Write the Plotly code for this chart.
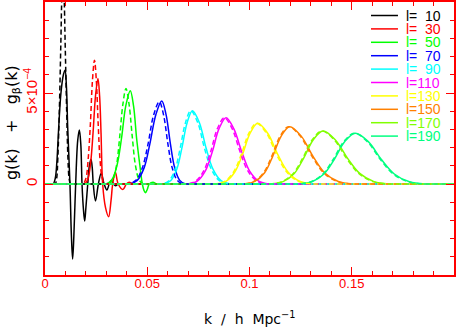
import plotly.graph_objects as go

# ---------------- data (g in units of 1e-4) ----------------
L_VALUES = [10, 30, 50, 70, 90, 110, 130, 150, 170, 190]
COLORS = ["#000000", "#ff0000", "#00ff00", "#0000ff", "#00ffff",
          "#ff00ff", "#ffff00", "#ff8000", "#80ff00", "#00ff80"]

X_TICKS = [0, 0.05, 0.1, 0.15]
X_TICK_LABELS = ["0", "0.05", "0.1", "0.15"]
Y_TICKS = [0, 5]
Y_TICK_LABELS = ["0", "5\u00d710<sup>\u22124</sup>"]

k_s10 = [0.0, 0.0030, 0.0040, 0.0050, 0.0058, 0.0067, 0.0078, 0.0090, 0.0098, 0.0105, 0.0111,
         0.0122, 0.0129, 0.0135, 0.0141, 0.0150, 0.0160, 0.0168, 0.0175, 0.0181, 0.0188,
         0.0194, 0.0200, 0.0209, 0.0217, 0.0225, 0.0231, 0.0236, 0.0247, 0.0261, 0.0275,
         0.0289, 0.0303, 0.0314, 0.0325, 0.0335, 0.0345, 0.0358, 0.0370, 0.2]
g_s10 = [0, 0, 0, 0.3, 1.2, 3.1, 5.0, 6.0, 6.25, 5.3, 3.1,
         0, -2.8, -4.12, -2.9, 0, 2.4, 2.97, 2.2, 0, -1.4,
         -2.03, -1.3, 0, 1.0, 1.36, 0.9, 0, -0.93, 0, 0.59,
         0, -0.33, 0, 0.2, 0, -0.1, 0, 0, 0]
k_d10 = [0.0, 0.0040, 0.0050, 0.0057, 0.0063, 0.0070, 0.0077, 0.0083, 0.0088, 0.0093, 0.0099,
         0.0106, 0.0112, 0.0118, 0.0125, 0.0135, 0.2]
g_d10 = [0, 0, 0, 0.3, 1.5, 4.0, 7.5, 10.5, 11.5, 10.5, 7.5, 4.0, 1.5, 0.3, 0, 0, 0]

k_s30 = [0.0, 0.0170, 0.0180, 0.0193, 0.0209, 0.0223, 0.0235, 0.0247, 0.0259, 0.0267, 0.0274,
         0.0282, 0.0296, 0.0311, 0.0323, 0.0331, 0.0344, 0.0358, 0.0381, 0.0398, 0.0412,
         0.0428, 0.0440, 0.2]
g_s30 = [0, 0, 0, 0, 0.25, 1.15, 2.82, 4.84, 5.8, 4.84, 2.82,
         0, -1.3, -1.8, -0.9, 0, 0.65, 0, -0.3, 0, 0.1, 0, 0, 0]
k_d30 = [0.0, 0.0165, 0.0175, 0.0186, 0.0200, 0.0211, 0.0222, 0.0232, 0.0242, 0.0251, 0.0260,
         0.0269, 0.0280, 0.0292, 0.0305, 0.2]
g_d30 = [0, 0, 0, 0, 0.30, 1.35, 3.31, 5.68, 6.8, 5.68, 3.31, 1.35, 0.30, 0, 0, 0]

k_s50 = [0.0, 0.0275, 0.0285, 0.0298, 0.0327, 0.0352, 0.0374, 0.0395, 0.0417, 0.0433, 0.0448,
         0.0464, 0.0476, 0.0484, 0.0491, 0.0500, 0.0510, 0.0528, 0.0545, 0.0558, 0.2]
g_s50 = [0, 0, 0, 0, 0.23, 1.02, 2.50, 4.29, 5.13, 4.29, 2.50,
         1.02, 0, -0.35, -0.48, -0.3, 0, 0.1, 0, 0, 0]
k_d50 = [0.0, 0.0290, 0.0300, 0.0312, 0.0332, 0.0350, 0.0365, 0.0381, 0.0396, 0.0411, 0.0427,
         0.0442, 0.0460, 0.0480, 0.0495, 0.2]
g_d50 = [0, 0, 0, 0, 0.23, 1.04, 2.56, 4.39, 5.25, 4.39, 2.56, 1.04, 0.23, 0, 0, 0]

k_s70 = [0.0, 0.0395, 0.0413, 0.0451, 0.0485, 0.0513, 0.0542, 0.0571, 0.0592, 0.0613, 0.0634, 0.0659, 0.0687, 0.0705, 0.2]
g_s70 = [0, 0, 0, 0.20, 0.90, 2.22, 3.81, 4.56, 3.81, 2.22, 0.90, 0.20, 0, 0, 0]
k_d70 = [0.0, 0.0389, 0.0407, 0.0444, 0.0476, 0.0504, 0.0531, 0.0559, 0.0580, 0.0601, 0.0622, 0.0647, 0.0675, 0.0693, 0.2]
g_d70 = [0, 0, 0, 0.20, 0.89, 2.20, 3.78, 4.52, 3.78, 2.20, 0.89, 0.20, 0, 0, 0]

k_s90 = [0.0, 0.0559, 0.0579, 0.0614, 0.0644, 0.0669, 0.0695, 0.0721, 0.0755, 0.0788, 0.0822, 0.0861, 0.0906, 0.0926, 0.2]
g_s90 = [0, 0, 0, 0.18, 0.80, 1.96, 3.37, 4.03, 3.37, 1.96, 0.80, 0.18, 0, 0, 0]
k_d90 = [0.0, 0.0551, 0.0571, 0.0606, 0.0636, 0.0661, 0.0687, 0.0713, 0.0747, 0.0780, 0.0814, 0.0853, 0.0898, 0.0918, 0.2]
g_d90 = [0, 0, 0, 0.18, 0.80, 1.96, 3.37, 4.03, 3.37, 1.96, 0.80, 0.18, 0, 0, 0]

k_s110 = [0.0, 0.0678, 0.0700, 0.0745, 0.0784, 0.0818, 0.0851, 0.0885, 0.0923, 0.0962, 0.1000, 0.1045, 0.1096, 0.1118, 0.2]
g_s110 = [0, 0, 0, 0.16, 0.72, 1.77, 3.04, 3.64, 3.04, 1.77, 0.72, 0.16, 0, 0, 0]
k_d110 = [0.0, 0.0670, 0.0692, 0.0737, 0.0776, 0.0810, 0.0843, 0.0877, 0.0915, 0.0954, 0.0992, 0.1037, 0.1088, 0.1110, 0.2]
g_d110 = [0, 0, 0, 0.16, 0.72, 1.77, 3.04, 3.64, 3.04, 1.77, 0.72, 0.16, 0, 0, 0]

k_s130 = [0.0, 0.0810, 0.0835, 0.0885, 0.0928, 0.0966, 0.1003, 0.1040, 0.1089, 0.1138, 0.1188, 0.1245, 0.1311, 0.1336, 0.2]
g_s130 = [0, 0, 0, 0.15, 0.66, 1.63, 2.79, 3.34, 2.79, 1.63, 0.66, 0.15, 0, 0, 0]
k_d130 = [0.0, 0.0804, 0.0829, 0.0879, 0.0922, 0.0960, 0.0997, 0.1034, 0.1083, 0.1132, 0.1182, 0.1239, 0.1305, 0.1330, 0.2]
g_d130 = [0, 0, 0, 0.15, 0.66, 1.63, 2.79, 3.34, 2.79, 1.63, 0.66, 0.15, 0, 0, 0]

k_s150 = [0.0, 0.0945, 0.0972, 0.1026, 0.1074, 0.1114, 0.1155, 0.1196, 0.1253, 0.1310, 0.1367, 0.1434, 0.1510, 0.1540, 0.2]
g_s150 = [0, 0, 0, 0.14, 0.62, 1.53, 2.63, 3.15, 2.63, 1.53, 0.62, 0.14, 0, 0, 0]
k_d150 = [0.0, 0.0940, 0.0967, 0.1021, 0.1069, 0.1109, 0.1150, 0.1191, 0.1248, 0.1305, 0.1362, 0.1429, 0.1505, 0.1535, 0.2]
g_d150 = [0, 0, 0, 0.14, 0.62, 1.53, 2.63, 3.15, 2.63, 1.53, 0.62, 0.14, 0, 0, 0]

k_s170 = [0.0, 0.1072, 0.1102, 0.1164, 0.1219, 0.1265, 0.1312, 0.1359, 0.1419, 0.1479, 0.1539, 0.1609, 0.1689, 0.1720, 0.2]
g_s170 = [0, 0, 0, 0.13, 0.58, 1.42, 2.43, 2.91, 2.43, 1.42, 0.58, 0.13, 0, 0, 0]
k_d170 = [0.0, 0.1067, 0.1097, 0.1159, 0.1214, 0.1260, 0.1307, 0.1354, 0.1414, 0.1474, 0.1534, 0.1604, 0.1684, 0.1715, 0.2]
g_d170 = [0, 0, 0, 0.13, 0.58, 1.42, 2.43, 2.91, 2.43, 1.42, 0.58, 0.13, 0, 0, 0]

k_s190 = [0.0, 0.1205, 0.1237, 0.1305, 0.1364, 0.1415, 0.1466, 0.1517, 0.1581, 0.1644, 0.1708, 0.1782, 0.1867, 0.1900, 0.2]
g_s190 = [0, 0, 0, 0.12, 0.55, 1.36, 2.33, 2.79, 2.33, 1.36, 0.55, 0.12, 0, 0, 0]
k_d190 = [0.0, 0.1200, 0.1232, 0.1300, 0.1359, 0.1410, 0.1461, 0.1512, 0.1576, 0.1639, 0.1703, 0.1777, 0.1862, 0.1895, 0.2]
g_d190 = [0, 0, 0, 0.12, 0.55, 1.36, 2.33, 2.79, 2.33, 1.36, 0.55, 0.12, 0, 0, 0]

SOLID = [(k_s10, g_s10), (k_s30, g_s30), (k_s50, g_s50), (k_s70, g_s70), (k_s90, g_s90),
         (k_s110, g_s110), (k_s130, g_s130), (k_s150, g_s150), (k_s170, g_s170), (k_s190, g_s190)]
DASHED = [(k_d10, g_d10), (k_d30, g_d30), (k_d50, g_d50), (k_d70, g_d70), (k_d90, g_d90),
          (k_d110, g_d110), (k_d130, g_d130), (k_d150, g_d150), (k_d170, g_d170), (k_d190, g_d190)]

# ---------------- figure ----------------
fig = go.Figure()
for (k, g), c in zip(SOLID, COLORS):
    fig.add_trace(go.Scatter(x=k, y=g, mode="lines", hoverinfo="skip", showlegend=False,
                             line=dict(color=c, width=1.5, shape="spline", smoothing=1.0)))
for (k, g), c in zip(DASHED, COLORS):
    fig.add_trace(go.Scatter(x=k, y=g, mode="lines", hoverinfo="skip", showlegend=False,
                             line=dict(color=c, width=1.5, shape="spline", smoothing=1.0,
                                       dash="5px,3px")))

RED = "#ff0000"
fig.update_layout(
    width=456, height=327,
    margin=dict(l=45, r=2, t=2, b=52),
    paper_bgcolor="white", plot_bgcolor="white",
    showlegend=False,
    font=dict(family="Liberation Sans", size=13, color=RED),
)
fig.update_xaxes(
    range=[0, 0.2], showline=True, linecolor=RED, linewidth=1.5, mirror="ticks",
    ticks="inside", ticklen=8, tickwidth=1, tickcolor=RED,
    tickmode="array", tickvals=X_TICKS, ticktext=X_TICK_LABELS, ticklabelstandoff=-4,
    minor=dict(tickmode="linear", tick0=0, dtick=0.01, ticks="inside", ticklen=4, tickcolor=RED),
    showgrid=False, zeroline=False, automargin=False,
    tickfont=dict(family="Liberation Sans", size=13, color=RED),
)
fig.update_yaxes(
    range=[-5, 10], showline=True, linecolor=RED, linewidth=1.5, mirror="ticks",
    ticks="inside", ticklen=8, tickwidth=1, tickcolor=RED,
    tickmode="array", tickvals=Y_TICKS, ticktext=Y_TICK_LABELS, tickangle=-90,
    minor=dict(tickmode="linear", tick0=0, dtick=1, ticks="inside", ticklen=4, tickcolor=RED),
    showgrid=False, zeroline=False, automargin=False,
    tickfont=dict(family="Liberation Sans", size=15, color=RED),
)

# axis titles
fig.add_annotation(xref="paper", yref="paper", x=0.5, y=-0.1575, xanchor="center", yanchor="middle",
                   showarrow=False,
                   text="k\u00a0\u00a0/\u00a0\u00a0h\u00a0\u00a0Mpc<sup>\u22121</sup>",
                   font=dict(family="DejaVu Sans", size=14, color="black"))
fig.add_annotation(xref="paper", yref="paper", x=-0.0807, y=0.560, xanchor="center", yanchor="middle",
                   showarrow=False, textangle=-90,
                   text="g(k)\u00a0\u00a0\u00a0+\u00a0\u00a0\u00a0g<sub>\u03b2</sub>(k)",
                   font=dict(family="DejaVu Sans", size=16, color="black"))

# legend (drawn manually to match the compact spacing); figure space keeps digits aligned
for i, (lv, c) in enumerate(zip(L_VALUES, COLORS)):
    ypx = 15.5 + 13.4 * i
    yp = 1 - (ypx - 2) / 273.0
    label = "l=" + str(lv).rjust(3, "\u2007")
    fig.add_shape(type="line", xref="paper", yref="paper", x0=0.797, x1=0.863, y0=yp, y1=yp,
                  line=dict(color=c, width=1.5))
    fig.add_annotation(xref="paper", yref="paper", x=0.880, y=yp, xanchor="left", yanchor="middle",
                       showarrow=False, text=label, borderpad=0,
                       font=dict(family="Liberation Sans", size=14, color=c))

fig.write_html("out.html", config={"displayModeBar": False},
               post_script="document.body.style.margin='0px';")
